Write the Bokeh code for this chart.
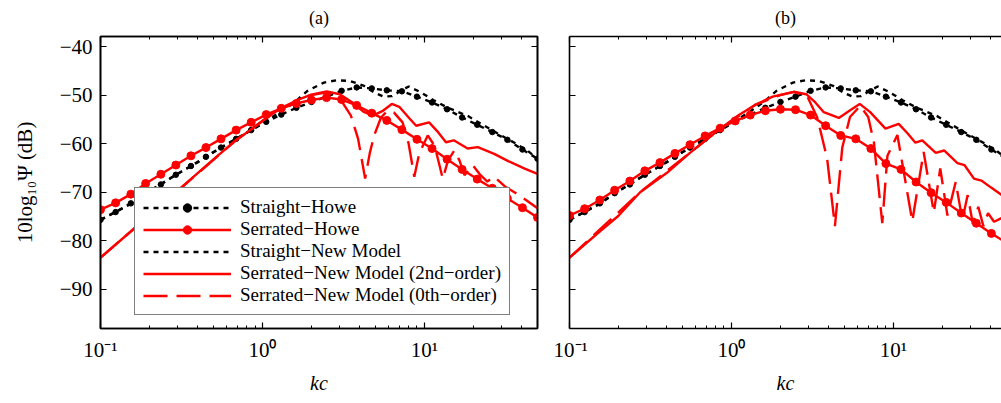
from bokeh.plotting import figure
from bokeh.layouts import row
from bokeh.models import (FixedTicker, CustomJSTickFormatter, LinearAxis, LogAxis,
                          Range1d)
from bokeh.embed import file_html
from bokeh.resources import INLINE

FONT = "Liberation Serif"

# ---------------- data ----------------
# Howe curves: 30 log-spaced frequencies (kc)
howe_x = [0.100, 0.124, 0.154, 0.190, 0.236, 0.292, 0.362, 0.448, 0.555, 0.688,
          0.852, 1.056, 1.308, 1.621, 2.009, 2.489, 3.084, 3.821, 4.734, 5.865,
          7.267, 9.004, 11.16, 13.82, 17.12, 21.22, 26.29, 32.57, 40.36, 50.0]

straight_howe_y = [-75.7, -74.1, -72.3, -70.2, -68.4, -66.4, -64.6, -62.7, -60.8, -59.0,
                   -57.2, -55.5, -54.0, -52.6, -51.4, -50.3, -49.1, -48.4, -48.6, -49.0,
                   -49.2, -50.3, -51.5, -52.9, -54.6, -56.1, -57.6, -59.2, -61.2, -63.1]

serrated_howe_a_y = [-73.6, -72.2, -70.4, -68.2, -66.3, -64.4, -62.5, -60.8, -59.0, -57.2,
                     -55.6, -54.0, -52.7, -51.7, -51.0, -50.5, -50.9, -52.1, -53.7, -55.2,
                     -57.1, -59.1, -61.0, -63.2, -65.3, -67.3, -69.2, -71.3, -73.2, -75.2]

serrated_howe_b_y = [-74.8, -73.4, -71.6, -69.6, -67.7, -65.6, -63.9, -62.0, -60.2, -58.4,
                     -56.8, -55.3, -54.1, -53.2, -52.9, -53.0, -54.1, -56.3, -58.3, -59.0,
                     -61.0, -64.1, -65.3, -67.9, -70.1, -72.1, -74.3, -76.4, -78.5, -80.4]

# Straight edge, new model (same in both panels)
straight_new_x = [0.1, 0.15, 0.2, 0.3, 0.4, 0.5, 0.7, 1.0, 1.3, 1.6, 1.9, 2.4, 2.9, 3.5,
                  4.25, 5.0, 5.6, 6.3, 7.0, 8.0, 9.5, 11.5, 14.0, 18.6, 22.4, 28.4, 36.0,
                  43.6, 50.0]
straight_new_y = [-75.7, -72.6, -69.8, -66.2, -63.8, -61.7, -58.9, -55.8, -53.4, -51.3,
                  -49.1, -47.4, -46.9, -47.1, -48.1, -49.6, -50.3, -50.2, -49.3, -48.2,
                  -49.4, -51.1, -52.6, -54.3, -55.9, -57.9, -59.8, -61.5, -63.1]

# Panel (a): serrated, new model
new2_a_x = [0.1, 0.155, 0.2, 0.3, 0.4, 0.52, 0.68, 0.9, 1.1, 1.35, 1.7, 2.0, 2.5, 3.0,
            3.6, 4.2, 4.8, 5.5, 6.3, 7.0, 8.0, 8.9, 10.7, 12.0, 13.6, 15.2, 18.5, 21.4,
            27.0, 33.0, 42.0, 50.0]
new2_a_y = [-83.5, -78.0, -74.8, -69.7, -66.0, -62.7, -59.4, -56.5, -54.3, -52.4, -50.8,
            -49.9, -49.2, -49.8, -51.5, -53.4, -54.2, -53.3, -51.8, -52.4, -54.6, -56.3,
            -55.6, -57.4, -59.7, -59.3, -61.0, -60.7, -62.1, -63.6, -65.2, -66.2]

new0_a_x = [0.1, 0.3, 0.68, 1.1, 1.7, 2.0, 2.5, 3.0, 3.52, 3.9, 4.31, 4.6, 4.9, 5.4, 5.93,
            6.5, 7.34, 8.0, 8.67, 9.3, 10.5, 11.6, 13.0, 14.0, 15.3, 16.5, 17.7, 19.9,
            22.0, 24.5, 27.0, 31.7, 36.0, 42.0, 50.0]
new0_a_y = [-83.5, -69.7, -59.4, -54.3, -50.8, -50.0, -49.4, -50.6, -54.2, -59.0, -67.2,
            -62.0, -58.3, -54.6, -53.2, -53.6, -55.6, -60.0, -66.8, -62.0, -58.3, -60.5,
            -67.2, -63.5, -61.4, -63.5, -66.5, -64.4, -66.3, -67.8, -66.8, -68.9, -70.0,
            -71.5, -73.3]

# Panel (b): serrated, new model
new2_b_x = [0.1, 0.155, 0.2, 0.273, 0.4, 0.55, 0.855, 1.1, 1.4, 1.8, 2.43, 2.9, 3.3,
            3.72, 4.61, 5.3, 6.2, 7.2, 8.95, 10.8, 12.2, 13.7, 15.1, 18.3, 20.6, 24.9,
            27.5, 31.5, 35.0, 40.0, 46.8, 50.0]
new2_b_y = [-83.5, -78.0, -74.9, -70.0, -66.0, -62.0, -56.9, -54.2, -52.0, -50.3, -49.3,
            -49.8, -51.5, -53.5, -54.7, -53.3, -51.8, -53.5, -56.9, -55.9, -57.8, -59.8,
            -59.3, -61.9, -61.4, -64.0, -64.4, -67.2, -67.6, -69.0, -70.6, -71.0]

new0_b_x = [0.1, 0.273, 0.855, 1.4, 2.0, 2.43, 2.94, 3.39, 3.9, 4.36, 4.84, 5.4, 6.25,
            7.0, 7.59, 8.55, 9.2, 10.6, 13.1, 15.4, 17.8, 19.5, 21.6, 24.3, 26.7, 28.8,
            31.0, 33.5, 36.0, 38.5, 41.9, 46.8, 50.0]
new0_b_y = [-83.5, -70.0, -56.9, -52.0, -50.0, -49.3, -50.2, -54.6, -63.0, -77.0, -60.8,
            -54.5, -52.2, -54.5, -59.7, -76.4, -62.5, -58.2, -76.0, -61.7, -74.2, -65.1,
            -74.8, -67.9, -75.7, -70.6, -76.5, -73.0, -77.0, -74.3, -76.1, -75.3, -76.0]

x_major = [0.1, 1, 10]
x_minor = [m * d for d in (0.1, 1, 10) for m in range(2, 10)]
y_major = [-90, -80, -70, -60, -50, -40]

LEG = ["Straight\u2212Howe", "Serrated\u2212Howe", "Straight\u2212New Model",
       "Serrated\u2212New Model (2nd\u2212order)", "Serrated\u2212New Model (0th\u2212order)"]

x_fmt_code = """
const e = Math.round(Math.log10(tick));
const sup = {"-": "\u207b", "0": "\u2070", "1": "\u00b9", "2": "\u00b2", "3": "\u00b3"};
return "10" + String(e).split("").map(c => sup[c]).join("");
"""
y_fmt_code = """
return (tick < 0 ? "\u2212" : "") + Math.abs(tick).toFixed(0);
"""
blank_code = "return '';"


def style_axis(ax, is_x, show_labels):
    ax.ticker = FixedTicker(ticks=x_major, minor_ticks=x_minor) if is_x else FixedTicker(ticks=y_major)
    if show_labels:
        ax.formatter = CustomJSTickFormatter(code=x_fmt_code if is_x else y_fmt_code)
    else:
        ax.formatter = CustomJSTickFormatter(code=blank_code)
    ax.major_tick_in = 6
    ax.major_tick_out = 0
    ax.minor_tick_in = 3 if is_x else 0
    ax.minor_tick_out = 0
    ax.major_tick_line_color = "black"
    ax.minor_tick_line_color = "black" if is_x else None
    ax.major_tick_line_width = 1.2
    ax.minor_tick_line_width = 1.0
    ax.axis_line_color = "black"
    ax.axis_line_width = 1.6
    ax.major_label_text_font = FONT
    ax.major_label_text_font_size = "21px"
    ax.major_label_text_color = "black"
    ax.axis_label_text_font = FONT
    ax.axis_label_text_font_size = "20px"
    ax.axis_label_text_color = "black"
    ax.axis_label_text_font_style = "normal"


def make_fig(title, width, xmax, left_border, right_border, show_ylabels, right_axis):
    p = figure(width=width, height=403, x_axis_type="log",
               x_range=Range1d(0.1, xmax), y_range=Range1d(-98.1, -37.9),
               output_backend="svg", toolbar_location=None, title=title,
               min_border_left=left_border, min_border_right=right_border,
               min_border_top=34, min_border_bottom=75)
    p.title.align = "center"
    p.title.vertical_align = "top"
    p.title.text_font = FONT
    p.title.text_font_size = "18px"
    p.title.text_font_style = "normal"
    p.title.text_color = "black"
    p.title.standoff = 14
    p.xgrid.grid_line_color = None
    p.ygrid.grid_line_color = None
    p.background_fill_color = "white"
    p.border_fill_color = "white"
    if right_axis:
        p.outline_line_color = "black"
        p.outline_line_width = 1.6
    else:
        p.outline_line_color = None

    style_axis(p.xaxis[0], True, True)
    p.xaxis[0].axis_label = "kc"
    p.xaxis[0].axis_label_text_font_style = "italic"
    p.xaxis[0].major_label_standoff = 9
    p.xaxis[0].axis_label_standoff = 7

    style_axis(p.yaxis[0], False, show_ylabels)
    if show_ylabels:
        p.yaxis[0].axis_label = "10log\u2081\u2080\u03a8 (dB)"
        p.yaxis[0].axis_label_text_font_size = "21px"
        p.yaxis[0].major_label_standoff = 8
        p.yaxis[0].axis_label_standoff = 20

    top = LogAxis()
    style_axis(top, True, False)
    p.add_layout(top, "above")
    if right_axis:
        r = LinearAxis()
        style_axis(r, False, False)
        p.add_layout(r, "right")
    return p


def draw(p, serr_howe_y, n2x, n2y, n0x, n0y, legend):
    def lab(i):
        return {"legend_label": LEG[i]} if legend else {}
    p.line(howe_x, straight_howe_y, line_color="black", line_width=2.4,
           line_dash="5 5", **lab(0))
    p.scatter(howe_x, straight_howe_y, size=5.5, marker="circle",
              fill_color="black", line_color="black", **lab(0))
    p.line(straight_new_x, straight_new_y, line_color="black", line_width=2.4,
           line_dash="5 5", **lab(2))
    p.line(n0x, n0y, line_color="#ff0000", line_width=2.4, line_dash="24 9", **lab(4))
    p.line(n2x, n2y, line_color="#ff0000", line_width=2.4, **lab(3))
    p.line(howe_x, serr_howe_y, line_color="#ff0000", line_width=2.4, **lab(1))
    p.scatter(howe_x, serr_howe_y, size=8, marker="circle",
              fill_color="#ff0000", line_color="#ff0000", **lab(1))


p1 = make_fig("(a)", 553, 50.0, 100, 16, True, True)
draw(p1, serrated_howe_a_y, new2_a_x, new2_a_y, new0_a_x, new0_a_y, True)

p2 = make_fig("(b)", 448, 46.6, 16, 0, False, False)
draw(p2, serrated_howe_b_y, new2_b_x, new2_b_y, new0_b_x, new0_b_y, False)

leg = p1.legend[0]
order = {name: i for i, name in enumerate(LEG)}
leg.items = sorted(leg.items, key=lambda it: order[it.label.value])
leg.location = (34, 13)
leg.border_line_color = "black"
leg.border_line_width = 1.5
leg.background_fill_color = "white"
leg.background_fill_alpha = 1.0
leg.label_text_font = FONT
leg.label_text_font_size = "19px"
leg.label_text_color = "black"
leg.glyph_width = 88
leg.glyph_height = 21
leg.label_height = 21
leg.label_standoff = 9
leg.spacing = 0
leg.padding = 8
leg.margin = 0

layout = row(p1, p2)
open("out.html", "w").write(file_html(layout, INLINE))
